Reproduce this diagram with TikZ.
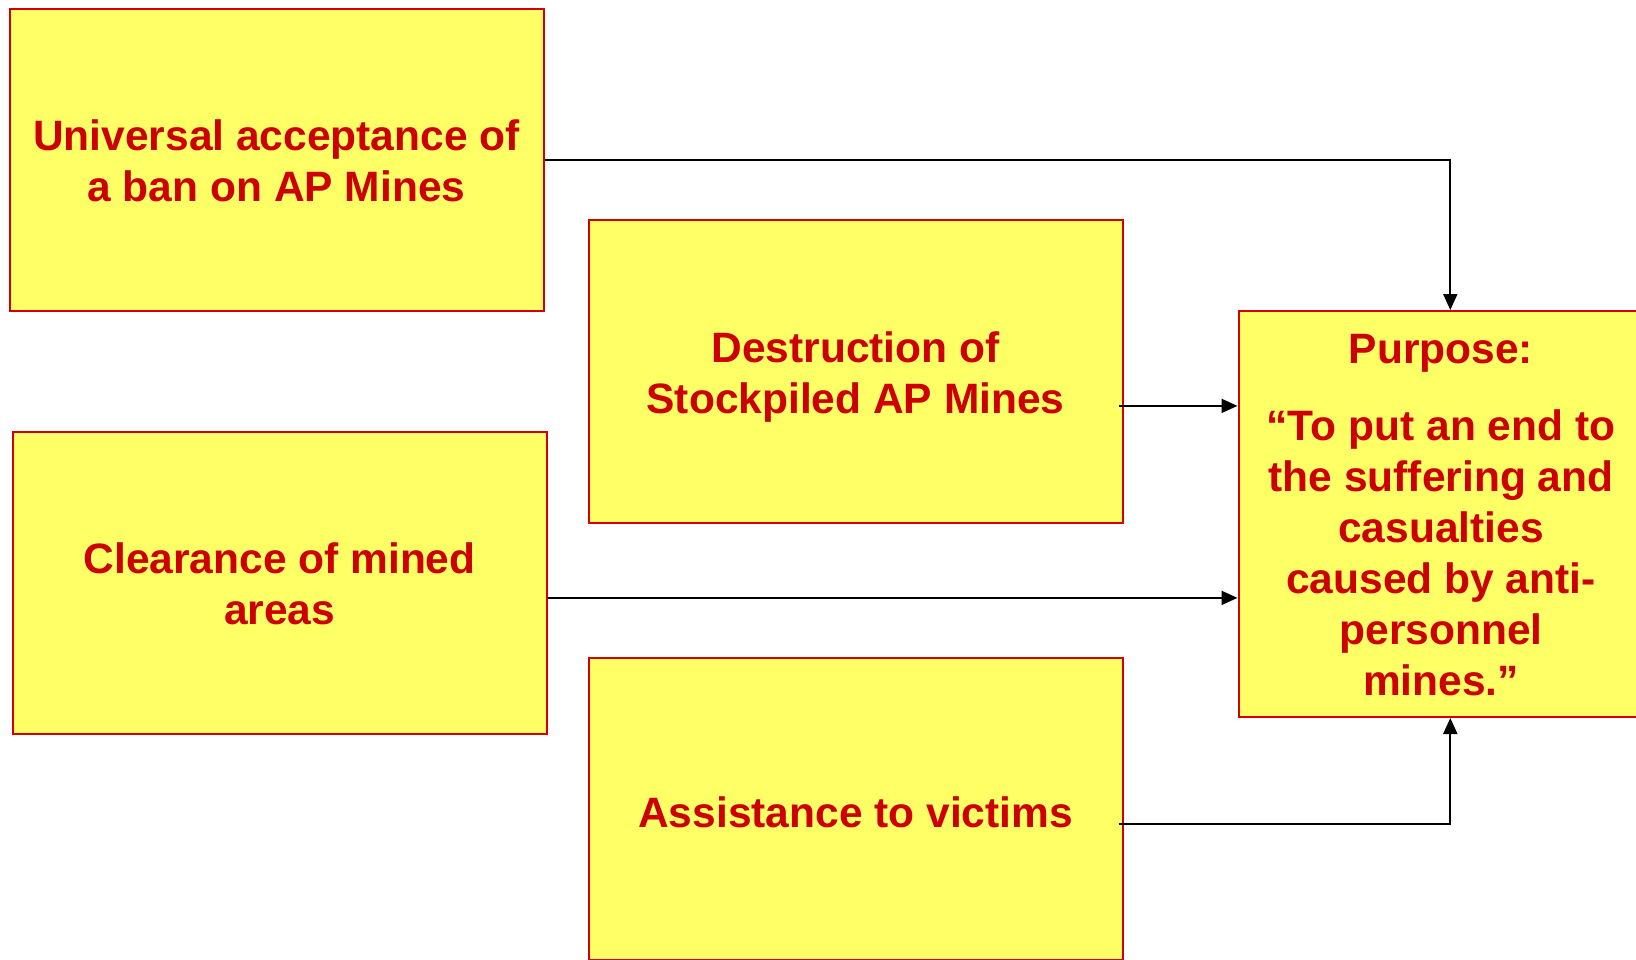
\documentclass[tikz,border=0pt]{standalone}
\usepackage{fontspec}
\setmainfont{Liberation Sans}
\usetikzlibrary{arrows.meta,calc}
\definecolor{boxfill}{HTML}{FFFF66}
\definecolor{boxline}{HTML}{D40000}
\definecolor{boxtext}{HTML}{CC0000}
\tikzset{
  goalbox/.style={draw=boxline, line width=2pt, fill=boxfill, rectangle,
    minimum width=534pt, minimum height=302pt, inner sep=0pt},
  goaltext/.style={align=center, inner sep=0pt, text=boxtext,
    font=\bfseries\fontsize{42.5}{51}\selectfont},
  link/.style={draw=black, line width=2pt, -{Triangle[length=16pt,width=14pt]}}
}
\begin{document}
\begin{tikzpicture}[x=1pt,y=-1pt]
\useasboundingbox (0,0) rectangle (1636,960);
\clip (0,0) rectangle (1636,960);
\fill[white] (0,0) rectangle (1636,960);
\node[goalbox] (b1) at (276.5,159.6) {};
\node[goaltext] (b1t) at ([yshift=-1pt]b1.center) {Universal acceptance of\\a ban on AP Mines};
\node[goalbox] (b2) at (855.6,371.5) {};
\node[goaltext] (b2t) at ([yshift=-5.5pt]b2.center) {Destruction of\\Stockpiled AP Mines};
\node[goalbox] (b3) at (279.6,583.3) {};
\node[goaltext] (b3t) at ([yshift=-1pt]b3.center) {Clearance of mined\\areas};
\node[goalbox] (b4) at (855.6,809.4) {};
\node[goaltext] (b4t) at ([yshift=-3pt]b4.center) {Assistance to victims};
\node[goalbox, minimum width=405pt, minimum height=406pt] (b5) at (1441,514) {};
\node[goaltext] (b5t) at ([yshift=-1pt]b5.center)
  {Purpose:\\[26pt]“To put an end to\\the suffering and\\casualties\\caused by anti-\\personnel\\mines.”};
\coordinate (t5) at ($(b5.north)+(9.3,0)$);
\coordinate (d5) at ($(b5.south)+(9.3,0)$);
\draw[link] (b1.east |- 0,159.6) -| (t5);
\draw[link] ([xshift=-5pt,yshift=-34.4pt]b2.east) -- ([yshift=-34.4pt]b2.east -| b5.west);
\draw[link] ([yshift=-14.6pt]b3.east) -- ([yshift=-14.6pt]b3.east -| b5.west);
\draw[link] ([xshift=-5pt,yshift=-14.9pt]b4.east) -| (d5);
\end{tikzpicture}
\end{document}
